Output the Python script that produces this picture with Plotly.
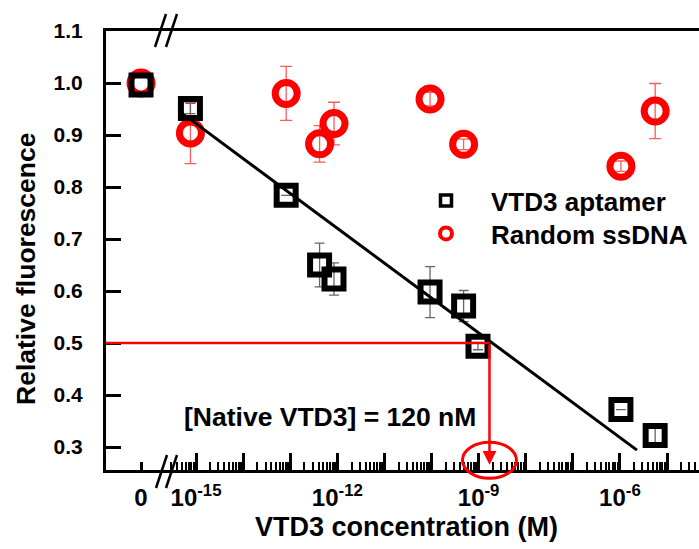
import math
import plotly.graph_objects as go

# ---------------- data ----------------
aptamer_zero_y = 0.996
aptamer_conc = [7.6e-16, 8.2e-14, 4.2e-13, 8.5e-13, 9.3e-11, 4.8e-10, 9.7e-10, 1.05e-6, 5.6e-6]
aptamer_y = [0.951, 0.784, 0.650, 0.623, 0.598, 0.571, 0.494, 0.372, 0.322]
aptamer_err = [0.010, 0.0, 0.042, 0.031, 0.049, 0.030, 0.007, 0.0, 0.014]

random_zero_y = 1.000
random_conc = [7.6e-16, 8.2e-14, 4.2e-13, 8.5e-13, 9.3e-11, 4.8e-10, 1.05e-6, 5.6e-6]
random_y = [0.904, 0.980, 0.883, 0.922, 0.969, 0.882, 0.840, 0.946]
random_err = [0.059, 0.052, 0.035, 0.041, 0.013, 0.010, 0.010, 0.053]

fit_conc = [5.0e-16, 2.3e-6]
fit_y = [0.942, 0.294]

half_level = 0.5
half_conc = 1.7e-9
arrow_tip_y = 0.266

y_ticks = [0.3, 0.4, 0.5, 0.6, 0.7, 0.8, 0.9, 1.0, 1.1]
x_label_exps = [-15, -12, -9, -6]
decade_exps = list(range(-16, -3))

series_names = ["VTD3 aptamer", "Random ssDNA"]
annotation_text = "[Native VTD3] = 120 nM"
x_title = "VTD3 concentration (M)"
y_title = "Relative fluorescence"

# ---------------- layout geometry ----------------
W, H = 699, 549
ML, MR, MT, MB = 106, 0, 31, 79
PW, PH = W - ML - MR, H - MT - MB
BREAK = 0.1029            # fraction of plot width where the axis break sits
LIN_RANGE = [-1.148, 0.852]
LOG_RANGE = [-15.616, -4.321]
Y_RANGE = [0.2558, 1.1]

FONT = "Liberation Sans, Arial, Helvetica, sans-serif"
RED = "#ff0000"


def logx_to_paper(v):
    lv = math.log10(v)
    return BREAK + (lv - LOG_RANGE[0]) / (LOG_RANGE[1] - LOG_RANGE[0]) * (1 - BREAK)


def y_to_paper(v):
    return (v - Y_RANGE[0]) / (Y_RANGE[1] - Y_RANGE[0])


def px(xp):
    return (xp - ML) / PW


def py(yp):
    return (MT + PH - yp) / PH


fig = go.Figure()

# Random ssDNA (red open circles)
circle_marker = dict(symbol="circle-open", size=22, color=RED, line=dict(width=7, color=RED))
fig.add_trace(go.Scatter(x=[0], y=[random_zero_y], xaxis="x", yaxis="y", mode="markers",
                         marker=circle_marker, showlegend=False, cliponaxis=False))
fig.add_trace(go.Scatter(x=random_conc, y=random_y, xaxis="x2", yaxis="y", mode="markers",
                         marker=circle_marker, showlegend=False, cliponaxis=False,
                         error_y=dict(type="data", array=random_err, color="#ff5a5a",
                                      thickness=1.3, width=6)))

# VTD3 aptamer (black open squares)
square_marker = dict(symbol="square-open", size=19, color="black", line=dict(width=6, color="black"))
fig.add_trace(go.Scatter(x=[0], y=[aptamer_zero_y], xaxis="x", yaxis="y", mode="markers",
                         marker=square_marker, showlegend=False, cliponaxis=False))
fig.add_trace(go.Scatter(x=aptamer_conc, y=aptamer_y, xaxis="x2", yaxis="y", mode="markers",
                         marker=square_marker, showlegend=False, cliponaxis=False,
                         error_y=dict(type="data", array=aptamer_err, color="#666666",
                                      thickness=1.3, width=5)))

# linear fit
fig.add_trace(go.Scatter(x=fit_conc, y=fit_y, xaxis="x2", yaxis="y", mode="lines",
                         line=dict(color="black", width=3), showlegend=False))

# invisible trace so the unlabeled-decade tick axis is drawn
fig.add_trace(go.Scatter(x=[None], y=[None], xaxis="x3", yaxis="y", mode="markers",
                         showlegend=False, hoverinfo="skip"))

# legend entries (two independent legends for exact row placement)
fig.add_trace(go.Scatter(x=[None], y=[None], xaxis="x2", yaxis="y", mode="markers",
                         name=series_names[0], legend="legend",
                         marker=dict(symbol="square-open", size=11, color="black",
                                     line=dict(width=3.5, color="black"))))
fig.add_trace(go.Scatter(x=[None], y=[None], xaxis="x2", yaxis="y", mode="markers",
                         name=series_names[1], legend="legend2",
                         marker=dict(symbol="circle-open", size=12, color=RED,
                                     line=dict(width=4, color=RED))))

shapes = []
# red horizontal guide at the 50% level
shapes.append(dict(type="line", xref="paper", yref="y", x0=0, x1=logx_to_paper(half_conc),
                   y0=half_level, y1=half_level, line=dict(color=RED, width=2.5)))
# red ellipse around the read-out point
cxp = logx_to_paper(half_conc)
rx = 27 / PW
ry = 18 / PH
cyp = y_to_paper(arrow_tip_y) + 4.5 / PH
shapes.append(dict(type="circle", xref="paper", yref="paper", x0=cxp - rx, x1=cxp + rx,
                   y0=cyp - ry, y1=cyp + ry, line=dict(color=RED, width=3)))

# axis break marks (//) at top and bottom
for (x0, y0, x1, y1) in [(155, 47, 166, 14), (166, 47, 177, 14),
                         (156, 488, 167, 455), (166, 488, 177, 455)]:
    shapes.append(dict(type="line", xref="paper", yref="paper", x0=px(x0), y0=py(y0),
                       x1=px(x1), y1=py(y1), line=dict(color="black", width=2.5)))

annotations = [
    dict(text=annotation_text, xref="paper", yref="y", x=px(329.5), y=0.358,
         showarrow=False, font=dict(family=FONT, size=26.5, color="black", weight="bold"),
         xanchor="center", yanchor="middle"),
    dict(text=x_title, xref="paper", yref="paper", x=px(406), y=py(527),
         showarrow=False, font=dict(family=FONT, size=27, color="black", weight="bold"),
         xanchor="center", yanchor="middle"),
    dict(text=y_title, xref="paper", yref="paper", x=px(26), y=py(269), textangle=-90,
         showarrow=False, font=dict(family=FONT, size=26.5, color="black", weight="bold"),
         xanchor="center", yanchor="middle"),
    # red arrow (vertical guide) from the 50% level down to the axis
    dict(text="", xref="x2", yref="y", x=math.log10(half_conc), y=arrow_tip_y,
         axref="x2", ayref="y", ax=math.log10(half_conc), ay=half_level,
         showarrow=True, arrowhead=2, arrowsize=1.1, arrowwidth=2.5, arrowcolor=RED,
         standoff=0, startstandoff=0),
]

minor_vals = [k * 10.0 ** e for e in decade_exps for k in range(2, 10)]
labeled_vals = [10.0 ** e for e in x_label_exps]
labeled_text = ["10<sup>%d</sup>" % e for e in x_label_exps]
unlabeled_vals = [10.0 ** e for e in decade_exps if e not in x_label_exps]

axis_common = dict(showgrid=False, zeroline=False, ticks="inside", tickcolor="black")
line_common = dict(showline=True, linewidth=3, linecolor="black")
tick_font = dict(family=FONT, size=24, color="black", weight="bold")
legend_common = dict(xanchor="left", yanchor="top", bgcolor="rgba(0,0,0,0)",
                     itemwidth=80, tracegroupgap=0,
                     font=dict(family=FONT, size=26, color="black", weight="bold"))

fig.update_layout(
    width=W, height=H,
    margin=dict(l=ML, r=MR, t=MT, b=MB, pad=0),
    paper_bgcolor="white", plot_bgcolor="white",
    font=dict(family=FONT, color="black"),
    showlegend=True,
    legend=dict(x=px(401), y=py(177), **legend_common),
    legend2=dict(x=px(401), y=py(210), **legend_common),
    xaxis=dict(domain=[0, BREAK], range=LIN_RANGE, tickmode="array", tickvals=[0],
               ticktext=["0"], ticklen=8, tickwidth=2.5, mirror=True,
               tickfont=tick_font, ticklabelstandoff=4, anchor="y",
               **axis_common, **line_common),
    xaxis2=dict(domain=[BREAK, 1], type="log", range=LOG_RANGE, tickmode="array",
                tickvals=labeled_vals, ticktext=labeled_text, ticklen=17, tickwidth=2.5,
                mirror=True, anchor="y",
                minor=dict(tickmode="array", tickvals=minor_vals, ticks="inside",
                           ticklen=8, tickwidth=1.8, tickcolor="black", showgrid=False),
                tickfont=tick_font, ticklabelstandoff=4, **axis_common, **line_common),
    xaxis3=dict(domain=[BREAK, 1], type="log", range=LOG_RANGE, overlaying="x2",
                anchor="y", side="bottom", tickmode="array", tickvals=unlabeled_vals,
                ticklen=17, tickwidth=2.5, showticklabels=False, showline=False,
                **axis_common),
    yaxis=dict(domain=[0, 1], range=Y_RANGE, tickmode="array", tickvals=y_ticks,
               ticktext=["%.1f" % v for v in y_ticks], ticklen=15, tickwidth=2.5,
               anchor="x", ticklabelstandoff=16,
               tickfont=dict(family=FONT, size=21, color="black", weight="bold"),
               **axis_common, **line_common),
    shapes=shapes,
    annotations=annotations,
)

fig.write_html("out.html", config={"displayModeBar": False},
               post_script="document.body.style.margin='0';")
